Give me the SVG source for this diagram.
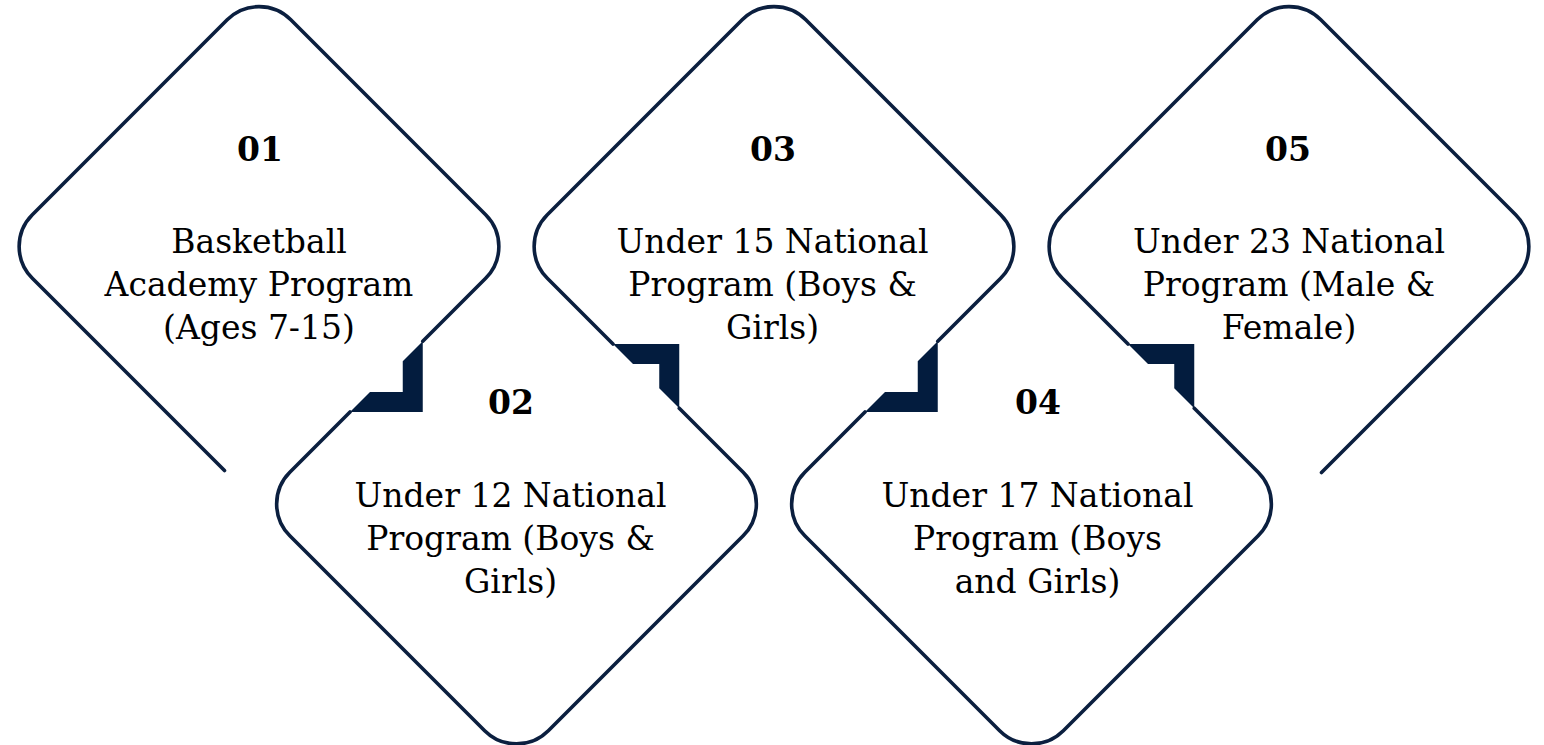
<svg xmlns="http://www.w3.org/2000/svg" width="1544" height="745" viewBox="0 0 1544 745">
<style>
.edge{fill:none;stroke:#0b1f3f;stroke-width:3.6;stroke-linecap:round;stroke-linejoin:round}
.notch{fill:#031c3e;stroke:none}
.num{font-family:"DejaVu Serif","Liberation Serif",serif;font-weight:bold;font-size:33px;fill:#000;text-anchor:middle}
.lbl{font-family:"DejaVu Serif","Liberation Serif",serif;font-size:33px;fill:#000;text-anchor:middle}
</style>
<rect width="1544" height="745" fill="#ffffff"/>
<g id="connectors">
<polygon class="notch" points="402.75,361.25 422.75,341.25 422.75,412 350,412 370,392 402.75,392"/>
<polygon class="notch" points="613,344 679.25,344 679.25,408.25 659.25,388.25 659.25,364 633,364"/>
<polygon class="notch" points="917.75,361.25 937.75,341.25 937.75,412 865,412 885,392 917.75,392"/>
<polygon class="notch" points="1128,344 1194.25,344 1194.25,408.25 1174.25,388.25 1174.25,364 1148,364"/>
</g>
<g id="node-01">
<path class="edge" d="M224.5 470.5 L32.32 278.32 A45 45 0 0 1 32.32 214.68 L227.18 19.82 A45 45 0 0 1 290.82 19.82 L485.68 214.68 A45 45 0 0 1 485.68 278.32 L422.75 341.25"/>
<text class="num" x="260" y="161">01</text>
<text class="lbl" x="259" y="252.5">Basketball</text>
<text class="lbl" x="259" y="295.5">Academy Program</text>
<text class="lbl" x="259" y="338.5">(Ages 7-15)</text>
</g>
<g id="node-02">
<path class="edge" d="M350 412 L289.82 472.18 A45 45 0 0 0 289.82 535.82 L484.68 730.68 A45 45 0 0 0 548.32 730.68 L743.18 535.82 A45 45 0 0 0 743.18 472.18 L679.25 408.25"/>
<text class="num" x="511" y="414">02</text>
<text class="lbl" x="510.5" y="506.5">Under 12 National</text>
<text class="lbl" x="510.5" y="549.5">Program (Boys &amp;</text>
<text class="lbl" x="510.5" y="592.5">Girls)</text>
</g>
<g id="node-03">
<path class="edge" d="M613 344 L547.32 278.32 A45 45 0 0 1 547.32 214.68 L742.18 19.82 A45 45 0 0 1 805.82 19.82 L1000.68 214.68 A45 45 0 0 1 1000.68 278.32 L937.75 341.25"/>
<text class="num" x="773" y="161">03</text>
<text class="lbl" x="772.5" y="252.5">Under 15 National</text>
<text class="lbl" x="772.5" y="295.5">Program (Boys &amp;</text>
<text class="lbl" x="772.5" y="338.5">Girls)</text>
</g>
<g id="node-04">
<path class="edge" d="M865 412 L804.82 472.18 A45 45 0 0 0 804.82 535.82 L999.68 730.68 A45 45 0 0 0 1063.32 730.68 L1258.18 535.82 A45 45 0 0 0 1258.18 472.18 L1194.25 408.25"/>
<text class="num" x="1038" y="414">04</text>
<text class="lbl" x="1037.5" y="506.5">Under 17 National</text>
<text class="lbl" x="1037.5" y="549.5">Program (Boys</text>
<text class="lbl" x="1037.5" y="592.5">and Girls)</text>
</g>
<g id="node-05">
<path class="edge" d="M1128 344 L1062.32 278.32 A45 45 0 0 1 1062.32 214.68 L1257.18 19.82 A45 45 0 0 1 1320.82 19.82 L1515.68 214.68 A45 45 0 0 1 1515.68 278.32 L1321.5 472.5"/>
<text class="num" x="1288" y="161">05</text>
<text class="lbl" x="1289" y="252.5">Under 23 National</text>
<text class="lbl" x="1289" y="295.5">Program (Male &amp;</text>
<text class="lbl" x="1289" y="338.5">Female)</text>
</g>
</svg>
